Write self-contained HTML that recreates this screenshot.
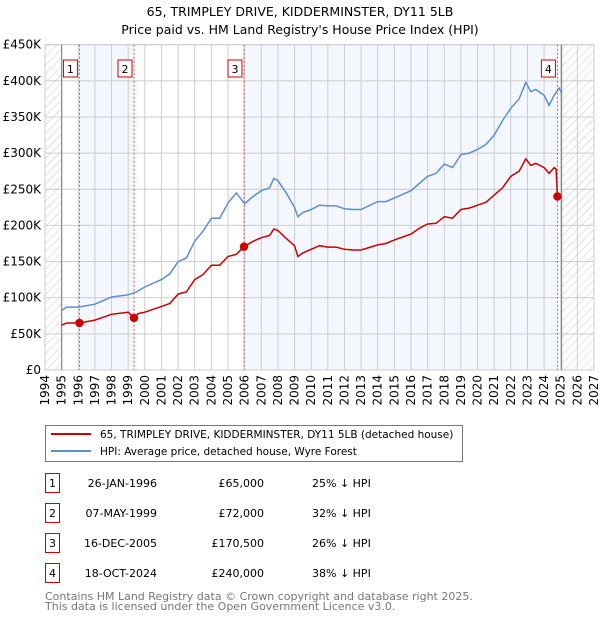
<!DOCTYPE html>
<html><head><meta charset="utf-8"><style>
body{margin:0;background:#fff;font-family:"DejaVu Sans","Liberation Sans",sans-serif;}
svg text{font-family:"DejaVu Sans","Liberation Sans",sans-serif;}
</style></head><body>
<svg id="c" width="600" height="620" xmlns="http://www.w3.org/2000/svg">
<defs><pattern id="hatch" patternUnits="userSpaceOnUse" width="6" height="6" patternTransform="rotate(45)"><line x1="0" y1="0" x2="0" y2="6" stroke="#bbb" stroke-width="0.8"/></pattern></defs>
<text x="300" y="16" text-anchor="middle" font-size="12.5">65, TRIMPLEY DRIVE, KIDDERMINSTER, DY11 5LB</text>
<text x="300" y="34" text-anchor="middle" font-size="12.5">Price paid vs. HM Land Registry's House Price Index (HPI)</text>
<g id="plot"></g>
<rect x="45.5" y="425.5" width="417" height="36" fill="#fff" stroke="#777"/>
<line x1="51" y1="434" x2="91" y2="434" stroke="#cc0000" stroke-width="2"/>
<text x="100" y="438" font-size="10.5">65, TRIMPLEY DRIVE, KIDDERMINSTER, DY11 5LB (detached house)</text>
<line x1="51" y1="451" x2="91" y2="451" stroke="#5b8fd0" stroke-width="2"/>
<text x="100" y="455" font-size="10.5">HPI: Average price, detached house, Wyre Forest</text>
<g id="tbl"></g>
<text x="45" y="600" font-size="11" fill="#777">Contains HM Land Registry data © Crown copyright and database right 2025.</text>
<text x="45" y="610" font-size="11" fill="#777">This data is licensed under the Open Government Licence v3.0.</text>
</svg>
<script>
const hpiX=[1995,1995.3,1996,1997,1998,1999,1999.5,2000,2001,2001.5,2002,2002.5,2003,2003.5,2004,2004.5,2005,2005.5,2006,2006.5,2007,2007.5,2007.75,2008,2008.5,2009,2009.2,2009.5,2010,2010.5,2011,2011.5,2012,2012.5,2013,2014,2014.5,2015,2015.5,2016,2016.5,2017,2017.5,2018,2018.5,2019,2019.5,2020,2020.5,2021,2021.5,2022,2022.5,2022.9,2023.2,2023.5,2024,2024.3,2024.6,2024.9,2025.05];
const hpiY=[82,87,87,91,101,104,108,115,125,133,150,155,178,192,210,210,231,245,230,240,248,252,265,262,245,225,212,218,222,228,227,227,223,222,222,233,233,238,243,248,258,268,272,285,280,298,300,305,312,325,345,362,375,398,385,388,380,366,380,390,383];
const redX=[1995,1995.3,1996.07,1997,1998,1999,1999.35,1999.6,2000,2001,2001.5,2002,2002.5,2003,2003.5,2004,2004.5,2005,2005.5,2005.8,2005.96,2006.5,2007,2007.5,2007.75,2008,2008.5,2009,2009.2,2009.5,2010,2010.5,2011,2011.5,2012,2012.5,2013,2014,2014.5,2015,2015.5,2016,2016.5,2017,2017.5,2018,2018.5,2019,2019.5,2020,2020.5,2021,2021.5,2022,2022.5,2022.9,2023.2,2023.5,2024,2024.3,2024.6,2024.72,2024.8];
const redY=[62,65,65,69,77,80,72,78,80,88,92,105,108,125,132,145,145,157,160,167,170.5,178,183,186,195,193,182,172,157,162,167,172,170,170,167,166,166,173,175,180,184,188,196,202,203,212,210,222,224,228,232,242,252,268,275,292,283,286,280,272,280,278,240];
const saleX=[1996.07,1999.35,2005.96,2024.8];
const saleY=[65,72,170.5,240];
const saleLabels=["1","2","3","4"];
const saleDates=["26-JAN-1996","07-MAY-1999","16-DEC-2005","18-OCT-2024"];
const salePrices=["£65,000","£72,000","£170,500","£240,000"];
const salePct=["25% ↓ HPI","32% ↓ HPI","26% ↓ HPI","38% ↓ HPI"];
const yTicks=[0,50,100,150,200,250,300,350,400,450];
const yTickLabels=["£0","£50K","£100K","£150K","£200K","£250K","£300K","£350K","£400K","£450K"];
const xYears=[1994,1995,1996,1997,1998,1999,2000,2001,2002,2003,2004,2005,2006,2007,2008,2009,2010,2011,2012,2013,2014,2015,2016,2017,2018,2019,2020,2021,2022,2023,2024,2025,2026,2027];

const L=45,R=594,T=44.7,B=370;
const sx=v=>L+(v-1994)/33*(R-L);
const sy=v=>B-v/450*(B-T);
const NS="http://www.w3.org/2000/svg";
const g=document.getElementById('plot');
function mk(tag,attrs,parent){const e=document.createElementNS(NS,tag);for(const k in attrs)e.setAttribute(k,attrs[k]);(parent||g).appendChild(e);return e;}

let e;
e=mk('rect',{x:L,y:T,width:sx(1995)-L,height:B-T,fill:'url(#hatch)'});


e=mk('rect',{x:sx(2025.05),y:T,width:R-sx(2025.05),height:B-T,fill:'url(#hatch)'});


e=mk('rect',{x:sx(saleX[0]),y:T,width:sx(saleX[1])-sx(saleX[0]),height:B-T,fill:'#f4f7fe'});


e=mk('rect',{x:sx(saleX[2]),y:T,width:sx(saleX[3])-sx(saleX[2]),height:B-T,fill:'#f4f7fe'});



yTicks.forEach((v,i)=>{
  const l=mk('line',{x1:L,x2:R,y1:sy(v),y2:sy(v),stroke:'#ccc','stroke-width':1});
  
  
  const t=mk('text',{x:L-4,y:sy(v)+4,'text-anchor':'end','font-size':12});
  
  
  t.textContent=yTickLabels[i];
});
xYears.forEach(yv=>{
  const l=mk('line',{x1:sx(yv),x2:sx(yv),y1:T,y2:B,stroke:'#ccc','stroke-width':1});
  
  
  const t=mk('text',{x:0,y:0,'text-anchor':'end','font-size':12,transform:`translate(${sx(yv)+4},${B+5}) rotate(-90)`});
  
  
  t.textContent=yv;
});
e=mk('rect',{x:L,y:T,width:R-L,height:B-T,fill:'none',stroke:'#ccc'});


e=mk('line',{x1:sx(1995),x2:sx(1995),y1:T,y2:B,stroke:'#888','stroke-width':1.2});


e=mk('line',{x1:sx(2025.05),x2:sx(2025.05),y1:T,y2:B,stroke:'#888','stroke-width':1.2});



saleX.forEach((xv,i)=>{
  const l=mk('line',{x1:sx(xv),x2:sx(xv),y1:T,y2:B,stroke:'#e05050','stroke-width':1,'stroke-dasharray':'2,2'});
  
  
});

function path(xs,ys){return xs.map((v,i)=>(i?'L':'M')+sx(v).toFixed(1)+','+sy(ys[i]).toFixed(1)).join('');}
e=mk('path',{d:path(hpiX,hpiY),fill:'none',stroke:'#5b8fd0','stroke-width':1.5});


e=mk('path',{d:path(redX,redY),fill:'none',stroke:'#cc0000','stroke-width':1.5});



saleX.forEach((xv,i)=>{
  const c=mk('circle',{cx:sx(xv),cy:sy(saleY[i]),r:4.2,fill:'#cc0000'});
  
  
  const bx=mk('rect',{x:sx(xv)-16,y:60,width:14,height:17,fill:'#fff',stroke:'#cc0000'});
  
  
  const t=mk('text',{x:sx(xv)-9,y:73,'text-anchor':'middle','font-size':11});
  
  
  t.textContent=saleLabels[i];
});

const tb=document.getElementById('tbl');
saleLabels.forEach((s,i)=>{
  const cy=483+i*30;
  const r=mk('rect',{x:45.5,y:cy-9.5,width:14,height:19,fill:'#fff',stroke:'#cc0000'},tb);
  
  
  const n=mk('text',{x:52.5,y:cy+4,'text-anchor':'middle','font-size':11},tb);
  
  
  n.textContent=s;
  const d=mk('text',{x:157,y:cy+4,'text-anchor':'end','font-size':11},tb);
  
  
  d.textContent=saleDates[i];
  const p=mk('text',{x:264,y:cy+4,'text-anchor':'end','font-size':11},tb);
  
  
  p.textContent=salePrices[i];
  const q=mk('text',{x:312,y:cy+4,'font-size':11},tb);
  
  
  q.textContent=salePct[i];
});
</script>
</body></html>
